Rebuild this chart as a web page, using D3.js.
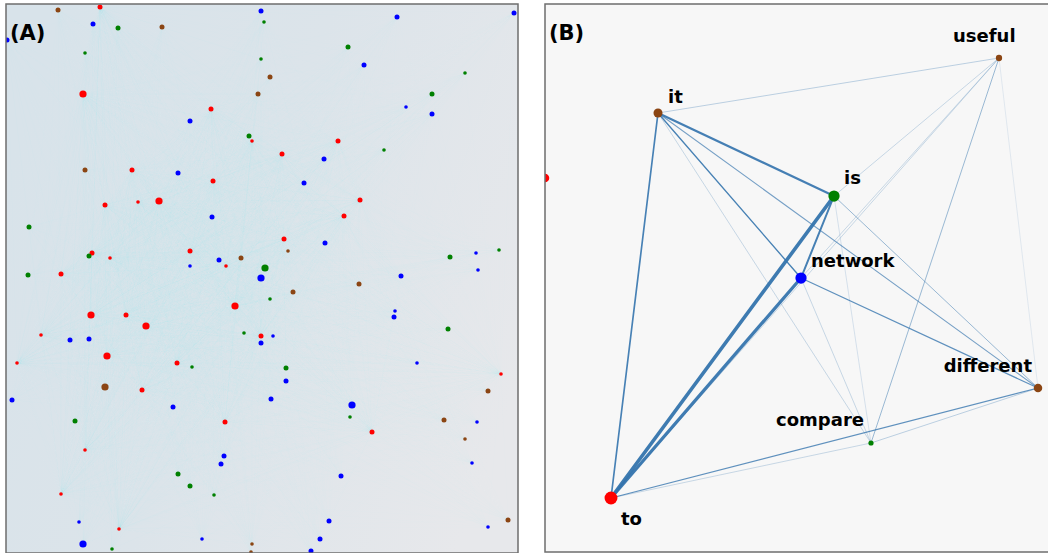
<!DOCTYPE html>
<html>
<head>
<meta charset="utf-8">
<script src="https://cdn.jsdelivr.net/npm/d3@7"></script>
<style>
  html, body { margin: 0; padding: 0; background: #fff; }
  svg { display: block; font-family: "DejaVu Sans", sans-serif; }
</style>
</head>
<body>
<svg width="1048" height="553"></svg>
<script>
// ---- panel A: embedding of words, coloured by group  [x, y, size]
const redA = [[94,3,"m"],[77,90,"l"],[205,105,"m"],[246,137,"s"],[126,166,"m"],[207,177,"m"],[332,137,"m"],[276,150,"m"],
  [99,201,"m"],[132,198,"s"],[153,197,"l"],[86,249,"m"],[104,254,"s"],[184,247,"m"],[220,262,"s"],[55,270,"m"],
  [229,302,"l"],[85,311,"l"],[120,311,"m"],[140,322,"l"],[35,331,"s"],[101,352,"l"],[11,359,"s"],[171,359,"m"],
  [354,196,"m"],[338,212,"m"],[278,235,"m"],[255,332,"m"],[136,386,"m"],[219,418,"m"],[79,446,"s"],[55,490,"s"],
  [113,525,"s"],[366,428,"m"],[495,370,"s"]];
const blueA = [[87,20,"m"],[1,36,"m"],[184,117,"m"],[172,169,"m"],[255,7,"m"],[391,13,"m"],[508,9,"m"],[358,61,"m"],
  [400,103,"s"],[426,110,"m"],[318,155,"m"],[206,213,"m"],[184,262,"s"],[213,256,"m"],[64,336,"m"],[83,335,"m"],
  [298,179,"m"],[319,239,"m"],[255,274,"l"],[470,249,"s"],[472,266,"s"],[395,272,"m"],[389,307,"s"],[388,313,"m"],
  [267,332,"s"],[255,339,"m"],[411,359,"s"],[6,396,"m"],[167,403,"m"],[218,452,"m"],[215,460,"m"],[73,518,"s"],
  [196,535,"s"],[77,540,"l"],[280,377,"m"],[265,395,"m"],[346,401,"l"],[471,418,"s"],[466,459,"s"],[335,472,"m"],
  [323,517,"m"],[314,535,"m"],[305,547,"m"],[482,523,"s"]];
const greenA = [[112,24,"m"],[79,49,"s"],[243,132,"m"],[258,18,"s"],[342,43,"m"],[255,55,"s"],[459,69,"s"],[426,90,"m"],
  [378,146,"s"],[23,223,"m"],[83,252,"m"],[22,271,"m"],[238,329,"s"],[186,363,"s"],[259,264,"l"],[264,295,"s"],
  [444,253,"m"],[493,246,"s"],[442,325,"m"],[280,364,"m"],[69,417,"m"],[172,470,"m"],[184,482,"m"],[208,491,"s"],
  [106,545,"s"],[344,413,"s"]];
const brownA = [[52,6,"m"],[156,23,"m"],[252,90,"m"],[79,166,"m"],[264,73,"m"],[235,254,"m"],[282,247,"s"],[287,288,"m"],
  [353,280,"m"],[99,383,"l"],[246,540,"s"],[245,548,"s"],[482,387,"m"],[438,416,"m"],[459,435,"s"],[502,516,"m"]];

// ---- panel B: small word network
const nodeNames = ["it", "useful", "is", "network", "different", "compare", "to", "?"];
const nodeX     = [113, 454, 289, 256, 493, 326, 66, 0];
const nodeY     = [109, 54, 192, 274, 384, 439, 494, 174];
const nodeGroup = ["brown", "brown", "green", "blue", "brown", "green", "red", "red"];
const nodeSize  = [0.55, 0.3, 0.75, 0.75, 0.5, 0.2, 0.9, 0.5];

const edgesB = [
  ["to","is",1.0], ["to","network",0.9], ["it","is",0.55], ["is","network",0.5],
  ["it","to",0.4], ["it","network",0.3], ["network","different",0.25], ["to","different",0.25],
  ["it","different",0.2], ["is","different",0.15], ["it","compare",0.08], ["is","compare",0.05],
  ["network","compare",0.08], ["useful","it",0.1], ["useful","is",0.08], ["useful","network",0.08],
  ["useful","to",0.08], ["useful","compare",0.15], ["compare","different",0.1], ["to","compare",0.08],
  ["useful","different",0.02]
];

const groupColor = d3.scaleOrdinal()
  .domain(["red", "blue", "green", "brown"])
  .range(["#ff0000", "#0000ff", "#008000", "#8b4513"]);

const svg = d3.select("svg");
const defs = svg.append("defs");

// ================= panel A =================
const pA = {x: 6, y: 4, w: 512, h: 549};
const xA = d3.scaleLinear().domain([0, 512]).range([0, pA.w]);
const yA = d3.scaleLinear().domain([0, 549]).range([0, pA.h]);
const rA = d3.scaleOrdinal().domain(["s", "m", "l"]).range([1.8, 2.5, 3.6]);

defs.append("clipPath").attr("id", "clipA")
  .append("rect").attr("width", pA.w).attr("height", pA.h);

// bluish on the left, grey towards the right
const grad = defs.append("linearGradient").attr("id", "bgA")
  .attr("x1", "0%").attr("y1", "30%").attr("x2", "100%").attr("y2", "70%");
grad.append("stop").attr("offset", "0%").attr("stop-color", "#d8e3ea");
grad.append("stop").attr("offset", "45%").attr("stop-color", "#dce4ea");
grad.append("stop").attr("offset", "100%").attr("stop-color", "#e7e8eb");

const gA = svg.append("g")
  .attr("transform", `translate(${pA.x},${pA.y})`)
  .attr("clip-path", "url(#clipA)");

gA.append("rect").attr("width", pA.w).attr("height", pA.h).attr("fill", "url(#bgA)");

const ptsA = [].concat(
  redA.map(d => ({x: d[0], y: d[1], s: d[2], g: "red"})),
  blueA.map(d => ({x: d[0], y: d[1], s: d[2], g: "blue"})),
  greenA.map(d => ({x: d[0], y: d[1], s: d[2], g: "green"})),
  brownA.map(d => ({x: d[0], y: d[1], s: d[2], g: "brown"}))
);

// faint cyan haze: every red word linked to all others
const haze = [];
ptsA.filter(d => d.g === "red").forEach(a => {
  ptsA.forEach(b => { if (a !== b) haze.push([a, b]); });
});
gA.append("g")
  .attr("stroke", "#5fd6e4")
  .attr("stroke-opacity", 0.008)
  .attr("stroke-width", 1)
  .selectAll("line")
  .data(haze)
  .join("line")
    .attr("x1", d => xA(d[0].x)).attr("y1", d => yA(d[0].y))
    .attr("x2", d => xA(d[1].x)).attr("y2", d => yA(d[1].y));

gA.append("g")
  .selectAll("circle")
  .data(ptsA)
  .join("circle")
    .attr("cx", d => xA(d.x))
    .attr("cy", d => yA(d.y))
    .attr("r", d => rA(d.s))
    .attr("fill", d => groupColor(d.g));

svg.append("rect")
  .attr("x", pA.x).attr("y", pA.y).attr("width", pA.w).attr("height", pA.h)
  .attr("fill", "none").attr("stroke", "#6e6e6e").attr("stroke-width", 1.5);

svg.append("text")
  .attr("x", pA.x + 4).attr("y", pA.y + 36)
  .attr("font-size", 21).attr("font-weight", "bold")
  .text("(A)");

// ================= panel B =================
const pB = {x: 545, y: 4, w: 510, h: 548};
const xB = d3.scaleLinear().domain([0, 510]).range([0, pB.w]);
const yB = d3.scaleLinear().domain([0, 548]).range([0, pB.h]);
const rB = d3.scaleLinear().domain([0, 1]).range([1.5, 7]);
const wB = d3.scaleLinear().domain([0, 1]).range([0.4, 3.6]);
const oB = d3.scaleLinear().domain([0, 0.3, 1]).range([0.2, 0.9, 0.95]);

defs.append("clipPath").attr("id", "clipB")
  .append("rect").attr("width", pB.w).attr("height", pB.h);

const gB = svg.append("g")
  .attr("transform", `translate(${pB.x},${pB.y})`)
  .attr("clip-path", "url(#clipB)");

gB.append("rect").attr("width", pB.w).attr("height", pB.h).attr("fill", "#f7f7f7");

const nodes = nodeNames.map((n, i) => ({
  name: n, x: nodeX[i], y: nodeY[i], g: nodeGroup[i], s: nodeSize[i]
}));
const byName = new Map(nodes.map(d => [d.name, d]));

gB.append("g")
  .attr("stroke", "#3474ad")
  .attr("stroke-linecap", "round")
  .selectAll("line")
  .data(edgesB)
  .join("line")
    .attr("x1", d => xB(byName.get(d[0]).x)).attr("y1", d => yB(byName.get(d[0]).y))
    .attr("x2", d => xB(byName.get(d[1]).x)).attr("y2", d => yB(byName.get(d[1]).y))
    .attr("stroke-width", d => wB(d[2]))
    .attr("stroke-opacity", d => oB(d[2]));

gB.append("g")
  .selectAll("circle")
  .data(nodes)
  .join("circle")
    .attr("cx", d => xB(d.x))
    .attr("cy", d => yB(d.y))
    .attr("r", d => rB(d.s))
    .attr("fill", d => groupColor(d.g));

// where each label sits relative to its node
const labelPlace = {
  it: [10, -10, "start"], useful: [-46, -16, "start"], is: [10, -12, "start"],
  network: [10, -11, "start"], different: [-6, -16, "end"], compare: [-7, -17, "end"],
  to: [10, 27, "start"]
};

gB.append("g")
  .attr("font-size", 18).attr("font-weight", "bold").attr("fill", "#000")
  .selectAll("text")
  .data(nodes.filter(d => labelPlace[d.name]))
  .join("text")
    .attr("x", d => xB(d.x) + labelPlace[d.name][0])
    .attr("y", d => yB(d.y) + labelPlace[d.name][1])
    .attr("text-anchor", d => labelPlace[d.name][2])
    .text(d => d.name);

svg.append("rect")
  .attr("x", pB.x).attr("y", pB.y).attr("width", pB.w).attr("height", pB.h)
  .attr("fill", "none").attr("stroke", "#6e6e6e").attr("stroke-width", 1.5);

svg.append("text")
  .attr("x", pB.x + 4).attr("y", pB.y + 36)
  .attr("font-size", 21).attr("font-weight", "bold")
  .text("(B)");
</script>
</body>
</html>
